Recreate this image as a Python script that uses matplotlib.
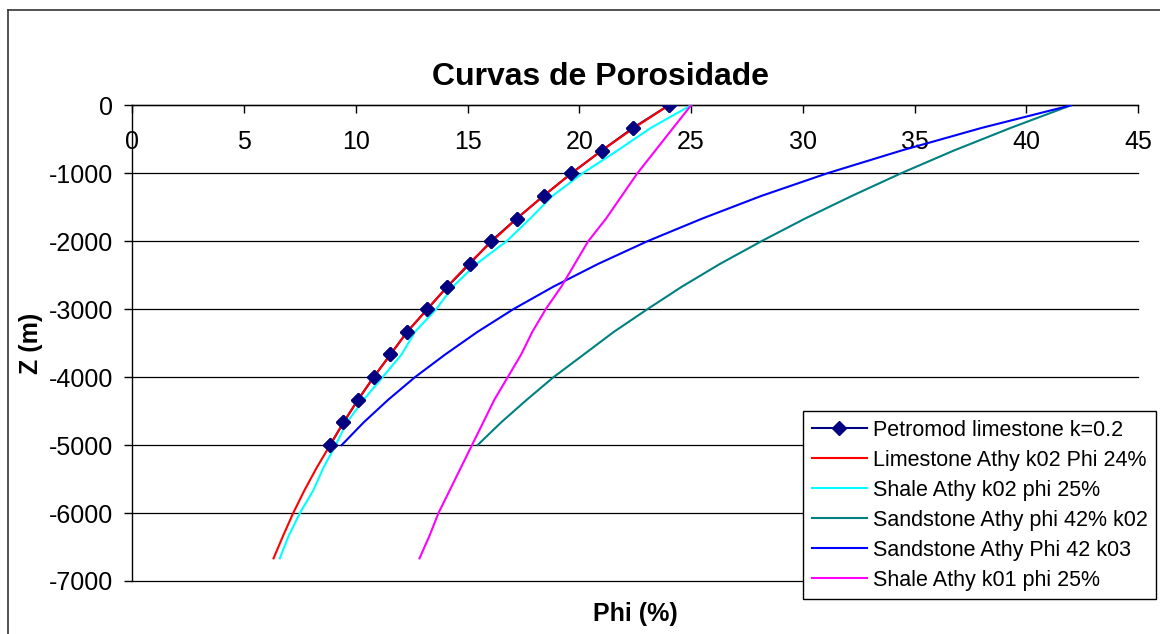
import matplotlib
matplotlib.use("Agg")
import matplotlib.pyplot as plt
from matplotlib.lines import Line2D

plt.rcParams['font.family'] = ['Liberation Sans', 'DejaVu Sans']

# Depths (m)
z_16 = [0, -333, -667, -1000, -1333, -1667, -2000, -2333, -2667, -3000,
        -3333, -3667, -4000, -4333, -4667, -5000]
z_21 = z_16 + [-5333, -5667, -6000, -6333, -6667]

# Porosity series (%)
petromod_lime = [24.0, 22.4, 21.0, 19.65, 18.4, 17.2, 16.05, 15.1, 14.1, 13.2,
                 12.3, 11.55, 10.8, 10.1, 9.45, 8.85]
lime_k02 = [24.0, 22.45, 21.0, 19.65, 18.4, 17.2, 16.1, 15.05, 14.1, 13.2,
            12.3, 11.55, 10.8, 10.1, 9.45, 8.85, 8.25, 7.7, 7.2, 6.75, 6.32]
shale_k02 = [25.0, 23.2, 21.7, 20.15, 18.8, 17.8, 16.75, 15.4, 14.35, 13.6,
             12.65, 12.05, 11.2, 10.35, 9.6, 9.1, 8.55, 8.1, 7.5, 7.0, 6.6]
sand_k02 = [42.0, 39.3, 36.75, 34.4, 32.2, 30.1, 28.15, 26.3, 24.6, 23.05,
            21.55, 20.2, 18.85, 17.65, 16.5, 15.45]
sand_k03 = [42.0, 38.0, 34.4, 31.1, 28.15, 25.5, 23.05, 20.85, 18.85, 17.05,
            15.45, 14.0, 12.65, 11.45, 10.35, 9.37]
shale_k01 = [25.0, 24.2, 23.4, 22.6, 21.9, 21.2, 20.4, 19.8, 19.2, 18.5,
             17.9, 17.4, 16.8, 16.2, 15.7, 15.2, 14.7, 14.2, 13.7, 13.3, 12.85]

labels = ["Petromod limestone k=0.2", "Limestone Athy k02 Phi 24%",
          "Shale Athy k02 phi 25%", "Sandstone Athy phi 42% k02",
          "Sandstone Athy Phi 42 k03", "Shale Athy k01 phi 25%"]
x_ticks = [0, 5, 10, 15, 20, 25, 30, 35, 40, 45]
y_ticks = [0, -1000, -2000, -3000, -4000, -5000, -6000, -7000]

fig = plt.figure(figsize=(11.6, 6.34), dpi=100)
W, H = 1160, 634
ax = fig.add_axes([132.3 / W, 1 - 581 / H, (1138 - 132.3) / W, (581 - 105.3) / H])

lw = 1.5
h_pet, = ax.plot(petromod_lime, z_16, color='#000080', lw=lw, marker='D',
                 markersize=7.5, markerfacecolor='#000080', markeredgecolor='#000080',
                 zorder=2, label=labels[0])
h_lime, = ax.plot(lime_k02, z_21, color='#FF0000', lw=lw, zorder=4, label=labels[1])
h_sh2, = ax.plot(shale_k02, z_21, color='#00FFFF', lw=lw, zorder=3, label=labels[2])
h_s2, = ax.plot(sand_k02, z_16, color='#008080', lw=lw, zorder=3, label=labels[3])
h_s3, = ax.plot(sand_k03, z_16, color='#0000FF', lw=lw, zorder=3, label=labels[4])
h_sh1, = ax.plot(shale_k01, z_21, color='#FF00FF', lw=lw, zorder=3, label=labels[5])
# markers of the Petromod series drawn on top
ax.plot(petromod_lime, z_16, ls='none', marker='D', markersize=7.5,
        markerfacecolor='#000080', markeredgecolor='#000080', zorder=6)

ax.set_xlim(0, 45)
ax.set_ylim(-7000, 0)
ax.set_xticks(x_ticks)
ax.set_yticks(y_ticks)
ax.set_xticklabels([str(v) for v in x_ticks])
ax.set_yticklabels([str(v) for v in y_ticks])

for s in ['top', 'right']:
    ax.spines[s].set_visible(False)
ax.spines['bottom'].set_position(('data', 0))
ax.spines['bottom'].set_color('black')
ax.spines['bottom'].set_linewidth(1.0)
ax.spines['left'].set_color('black')
ax.spines['left'].set_linewidth(1.0)

ax.tick_params(axis='x', direction='out', length=6, width=1, pad=12, labelsize=18,
               colors='black')
ax.tick_params(axis='y', direction='out', length=6, width=1, pad=8, labelsize=18,
               colors='black')

ax.yaxis.grid(True, color='black', lw=0.9)
for gl in ax.get_ygridlines():
    gl.set_clip_on(False)
ax.set_axisbelow(True)

fig.text(600 / W, 1 - 77 / H, "Curvas de Porosidade", ha='center', va='center',
         fontsize=23, fontweight='bold')
fig.text(635 / W, 1 - 614 / H, "Phi (%)", ha='center', va='center',
         fontsize=18, fontweight='bold')
fig.text(31 / W, 1 - 343 / H, "Z (m)", ha='center', va='center', rotation=90,
         fontsize=18, fontweight='bold')

leg = fig.legend(handles=[h_pet, h_lime, h_sh2, h_s2, h_s3, h_sh1],
                 loc='upper left', bbox_to_anchor=(803 / W, 1 - 411 / H),
                 fontsize=15.5, frameon=True, fancybox=False, framealpha=1,
                 edgecolor='black', handlelength=2.55, handletextpad=0.3,
                 labelspacing=0.42, borderpad=0.4, borderaxespad=0)
leg.get_frame().set_linewidth(1.0)
leg.set_zorder(10)

# outer chart-area frame (extends beyond the image on right and bottom)
fig.add_artist(Line2D([8 / W, 1.0], [1 - 10 / H, 1 - 10 / H], color='#333333', lw=1.2,
                      transform=fig.transFigure))
fig.add_artist(Line2D([8 / W, 8 / W], [1 - 10 / H, 0.0], color='#333333', lw=1.2,
                      transform=fig.transFigure))

fig.savefig("out.png", dpi=100)
